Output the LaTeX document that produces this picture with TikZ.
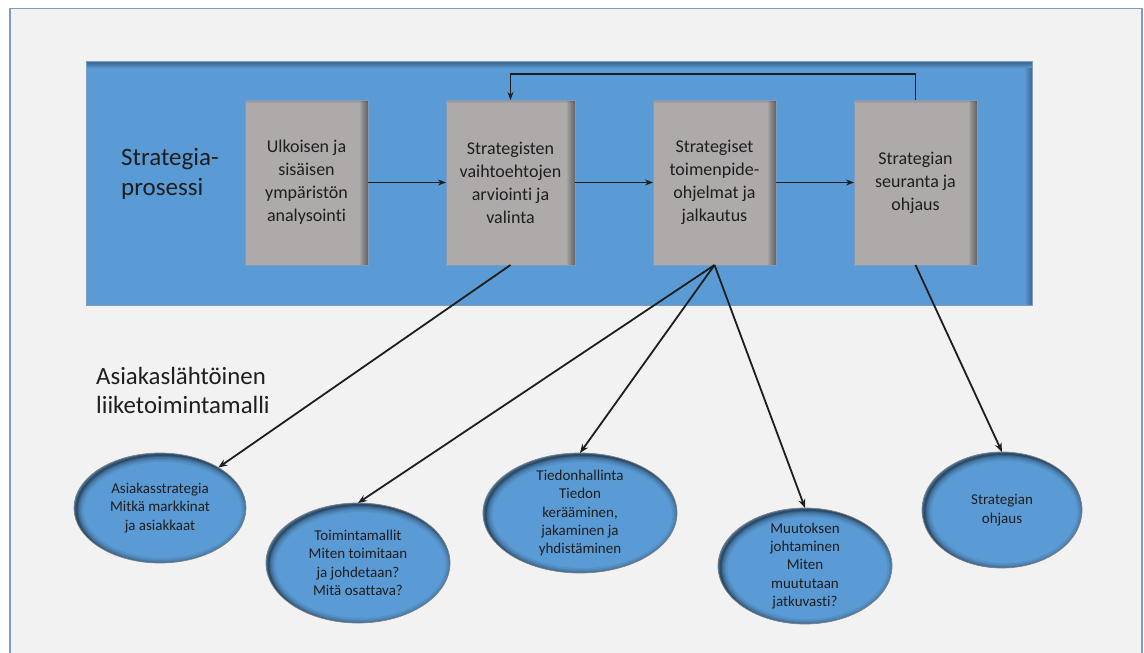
\documentclass[tikz,border=0pt]{standalone}
\usepackage{fontspec}
\setmainfont{Carlito}[RawFeature={-liga;-clig;-calt;-dlig}]
\usetikzlibrary{arrows.meta,calc,shapes.geometric}

\definecolor{framefill}{HTML}{F2F2F2}
\definecolor{frameline}{HTML}{7C9CC2}
\definecolor{procblue}{HTML}{5B9BD5}
\definecolor{procdark}{HTML}{3E6B96}
\definecolor{stepgrey}{HTML}{AEAAAA}
\definecolor{stepedge}{HTML}{7F9CC0}
\definecolor{ink}{HTML}{1E1E1E}

\tikzset{
  stepbox/.style={draw=stepedge, line width=0.8pt, fill=stepgrey,
    minimum width=123pt, minimum height=165pt, inner sep=0pt, outer sep=0pt,
    align=center, text=ink, font=\fontsize{18}{23}\selectfont,
    path picture={
      % soft shade along the right edge
      \foreach \k in {1,...,8}
        \fill[black, opacity=0.055]
          ([xshift=-\k pt]path picture bounding box.north east) rectangle
          (path picture bounding box.south east);
      % faint shade along the top edge
      \foreach \k in {1,2,3}
        \fill[black, opacity=0.05]
          (path picture bounding box.north west) rectangle
          ([yshift=-\k pt]path picture bounding box.north east);
    }},
  oval/.style n args={3}{ellipse, draw=black!50, line width=0.7pt, fill=procblue,
    minimum width=2*#1 pt, minimum height=2*#2 pt, inner sep=0pt, outer sep=0pt,
    label={[align=center, text=ink, font=\fontsize{15}{18.4}\selectfont]center:#3},
    path picture={
      \foreach \w/\o in {14/0.07,10/0.09,7/0.11,4/0.15,2/0.22}
        \draw[line width=\w pt, draw=black, opacity=\o]
          ([shift={(2.5pt,-2pt)}]path picture bounding box.center)
          ellipse [x radius=#1 pt, y radius=#2 pt];
    }},
  flow/.style={draw=ink, line width=1.2pt, -{Stealth[length=8pt,width=6pt]}},
  link/.style={draw=ink, line width=1.8pt, -{Stealth[length=9pt,width=7pt]}},
  heading/.style={align=left, anchor=north west, inner sep=0pt, text=ink}
}

\begin{document}
\begin{tikzpicture}[x=1pt, y=-1pt]
  % canvas and outer frame
  \useasboundingbox (0,0) rectangle (1144,653);
  \fill[white] (0,0) rectangle (1144,653);
  \draw[frameline, line width=1.3pt, fill=framefill] (10,8.5) rectangle (1142,660);

  % process band with its dark upper and right edges
  \fill[procdark] (86,61) rectangle (1032,305);
  \shade[top color=procdark, bottom color=procblue] (86,63) rectangle (1032,68);
  \fill[procblue] (86,68) rectangle (1026,305);
  \shade[left color=procblue, right color=procdark] (1024,68) rectangle (1032,305);
  \draw[stepedge, line width=0.8pt] (86,61) rectangle (1032,305);

  \node[heading, font=\fontsize{25}{30}\selectfont] (proc) at (121,148) {Strategia-\\prosessi};

  % process steps
  \node[stepbox] (b1) at (306.5,182.5) {Ulkoisen ja\\sisäisen\\ympäristön\\analysointi};
  \node[stepbox, minimum width=129pt] (b2) at (510.5,182.5) {Strategisten\\vaihtoehtojen\\arviointi ja\\valinta};
  \node[stepbox] (b3) at (714.5,182.5) {Strategiset\\toimenpide-\\ohjelmat ja\\jalkautus};
  \node[stepbox] (b4) at (915.5,182.5) {Strategian\\seuranta ja\\ohjaus};

  \draw[flow] (b1) -- (b2);
  \draw[flow] (b2) -- (b3);
  \draw[flow] (b3) -- (b4);
  \draw[link, line width=1.6pt, -{Stealth[length=8pt,width=6pt]}] (b4.north) -- ++(0,-26) -| (b2.north);

  % business model elements
  \node[heading, font=\fontsize{24.8}{29}\selectfont] (model) at (96,367) {Asiakaslähtöinen\\liiketoimintamalli};

  \node[oval={86}{55}{Asiakasstrategia\\Mitkä markkinat\\ja asiakkaat}] (e1) at (160,508) {};
  \node[oval={92}{60}{Toimintamallit\\Miten toimitaan\\ja johdetaan?\\Mitä osattava?}] (e2) at (358,563) {};
  \node[oval={97}{60}{Tiedonhallinta\\Tiedon\\kerääminen,\\jakaminen ja\\yhdistäminen}] (e3) at (580,513) {};
  \node[oval={87}{58}{Muutoksen\\johtaminen\\Miten\\muututaan\\jatkuvasti?}] (e4) at (805,566) {};
  \node[oval={80}{58}{Strategian\\ohjaus}] (e5) at (1002,510) {};

  \draw[link] (b2.south) -- (e1);
  \draw[link] (b3.south) -- (e2.north);
  \draw[link] (b3.south) -- (e3.north);
  \draw[link] (b3.south) -- (e4.north);
  \draw[link] (b4.south) -- (e5.north);
\end{tikzpicture}
\end{document}
